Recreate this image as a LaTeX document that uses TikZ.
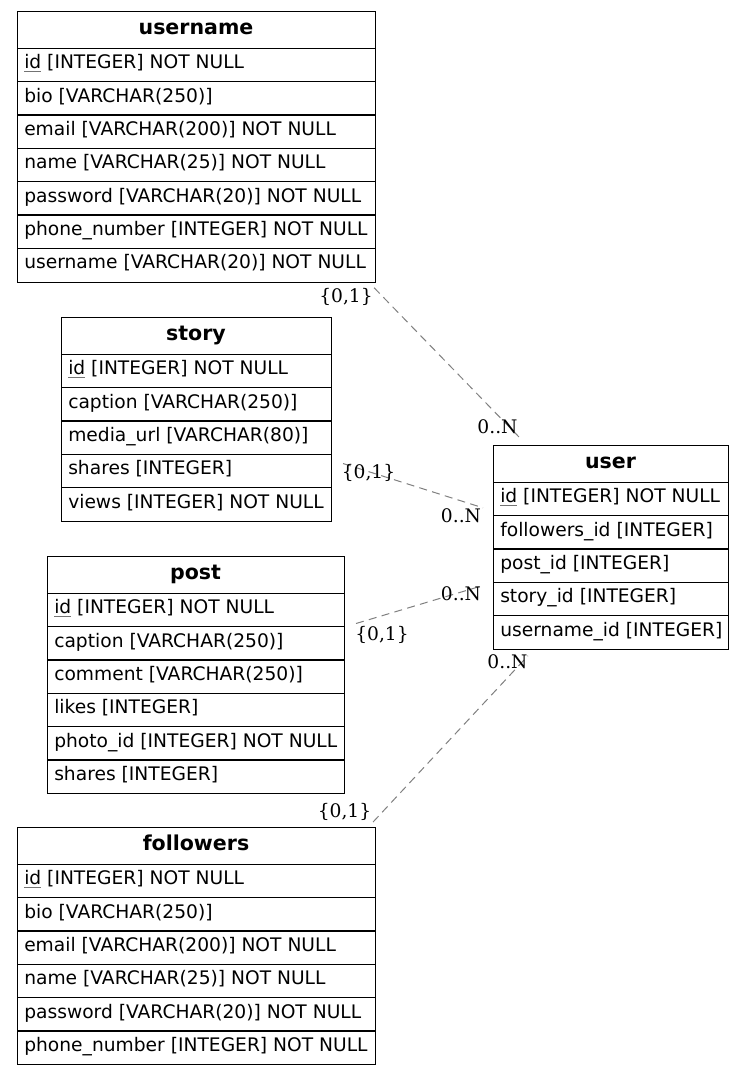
\documentclass[tikz,border=0pt]{standalone}
\usepackage{fontspec}
\newfontfamily\tblfont{DejaVu Sans}
\newfontfamily\lblfont{DejaVu Serif}
\newcommand\pk[1]{\setbox0\hbox{#1}\rlap{\color{black!55}\rule[-2pt]{\wd0}{0.6pt}}\box0}
\tikzset{
  tbl/.style={draw, line width=0.8pt, rectangle, inner sep=0pt, anchor=north west},
  rowline/.style={line width=0.8pt},
  ttl/.style={anchor=base, inner sep=0pt, font=\tblfont\bfseries\fontsize{15.4}{17}\selectfont},
  fld/.style={anchor=base west, inner sep=0pt, font=\tblfont\fontsize{14}{16}\selectfont},
  rel/.style={draw=black!50, line width=0.75pt, dash pattern=on 6pt off 4pt},
  card/.style={anchor=base, inner sep=0pt, font=\lblfont\fontsize{14}{16}\selectfont},
}
% name, left x, right x, top y, nrows, title, rows
\newcommand\ertable[7]{%
  \node[tbl, minimum width={(#3-#2)*0.75pt}, minimum height={(37.33+33.33*#5)*0.75pt}] (#1) at (#2,#4) {};
  \node[ttl] (#1-t) at ({(#2+#3)/2},{#4+23.3}) {#6};
  \foreach \r [count=\i] in {#7} {
    \draw[rowline] (#2,{#4+37.33+33.33*(\i-1)}) -- (#3,{#4+37.33+33.33*(\i-1)});
    \node[fld] (#1-\i) at ({#2+7},{#4+37.33+33.33*(\i-1)+20.5}) {\r};
  }%
}
\begin{document}
\begin{tikzpicture}[x=0.75pt,y=-0.75pt]
\useasboundingbox (0,0) rectangle (744,1075);
\fill[white] (0,0) rectangle (744,1075);

\ertable{username}{17}{375}{11}{7}{username}{%
  {\pk{id}\ [INTEGER] NOT NULL},{bio [VARCHAR(250)]},{email [VARCHAR(200)] NOT NULL},%
  {name [VARCHAR(25)] NOT NULL},{password [VARCHAR(20)] NOT NULL},%
  {phone\_number [INTEGER] NOT NULL},{username [VARCHAR(20)] NOT NULL}}

\ertable{story}{61}{331}{317}{5}{story}{%
  {\pk{id}\ [INTEGER] NOT NULL},{caption [VARCHAR(250)]},{media\_url [VARCHAR(80)]},%
  {shares [INTEGER]},{views [INTEGER] NOT NULL}}

\ertable{post}{47}{344}{556}{6}{post}{%
  {\pk{id}\ [INTEGER] NOT NULL},{caption [VARCHAR(250)]},{comment [VARCHAR(250)]},%
  {likes [INTEGER]},{photo\_id [INTEGER] NOT NULL},{shares [INTEGER]}}

\ertable{followers}{17}{375}{827}{6}{followers}{%
  {\pk{id}\ [INTEGER] NOT NULL},{bio [VARCHAR(250)]},{email [VARCHAR(200)] NOT NULL},%
  {name [VARCHAR(25)] NOT NULL},{password [VARCHAR(20)] NOT NULL},%
  {phone\_number [INTEGER] NOT NULL}}

\ertable{user}{493}{728}{445}{5}{user}{%
  {\pk{id}\ [INTEGER] NOT NULL},{followers\_id [INTEGER]},{post\_id [INTEGER]},%
  {story\_id [INTEGER]},{username\_id [INTEGER]}}

% relations
\draw[rel] ([shift={(-2,5)}]username.south east) -- ([shift={(26,-8)}]user.north west);
\draw[rel] ([shift={(11,44)}]story.east) -- ([shift={(-10,-39.7)}]user.west);
\draw[rel] ([shift={(11,-51.7)}]post.east) -- ([shift={(-11,38.3)}]user.west);
\draw[rel] ([shift={(-3,-5)}]followers.north east) -- ([shift={(35,5.7)}]user.south west);

% cardinalities
\node[card] (c1a) at (346,302) {\{0,1\}};
\node[card] (c1b) at (497.5,433) {0..N};
\node[card] (c2a) at (368.5,478) {\{0,1\}};
\node[card] (c2b) at (461,522) {0..N};
\node[card] (c3a) at (382,640) {\{0,1\}};
\node[card] (c3b) at (461,600) {0..N};
\node[card] (c4a) at (344.5,817) {\{0,1\}};
\node[card] (c4b) at (507.5,668) {0..N};
\end{tikzpicture}
\end{document}
